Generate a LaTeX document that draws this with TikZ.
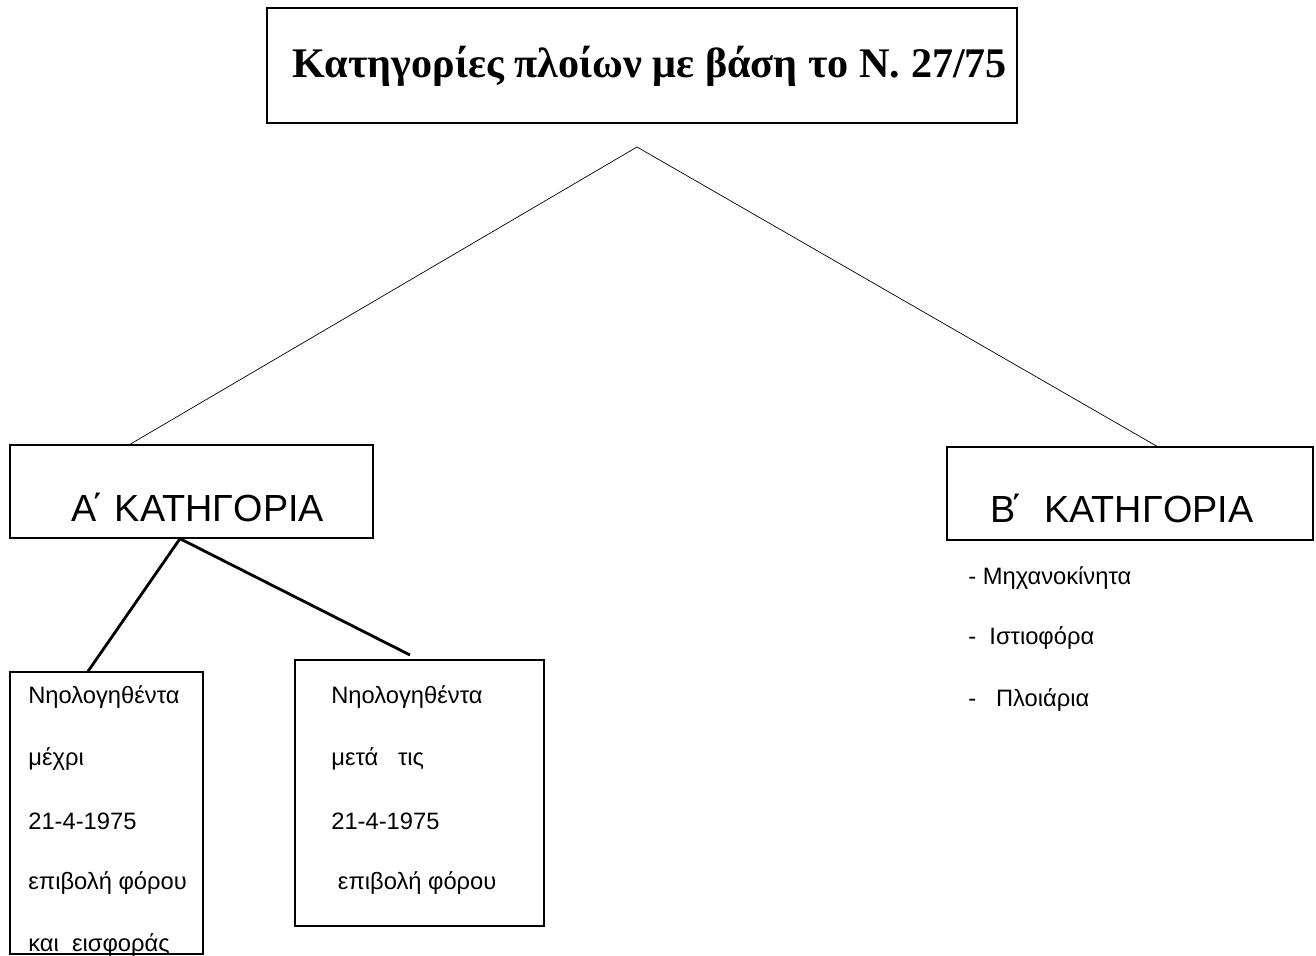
\documentclass[tikz,border=0pt]{standalone}
\usepackage{fontspec}
\setmainfont{Liberation Sans}
\newfontfamily\titlefont{Liberation Serif}

\begin{document}
\begin{tikzpicture}[x=0.02cm,y=-0.02cm,
    box/.style={draw,line width=0.8pt,inner sep=0pt},
    cat/.style={font=\fontsize{21.5}{26}\selectfont,inner sep=0pt},
    txt/.style={font=\fontsize{13.5}{16}\selectfont,anchor=west,inner sep=0pt},
    branch/.style={line width=1.6pt}]
    \useasboundingbox (0,0) rectangle (1316,956);
    % title
    \node[box,line width=1.4pt,minimum width=15cm,minimum height=2.3cm] (title) at (642,65.5) {};
    \node[font=\titlefont\bfseries\fontsize{24}{28}\selectfont,inner sep=0pt] (titletext) at (650,66)
        {Κατηγορίες πλοίων με βάση το Ν. 27/75};
    \coordinate (apex) at (637,147);
    % the two categories
    \node[box,minimum width=7.26cm,minimum height=1.86cm] (boxA) at (191.5,491.5) {};
    \node[cat] (catA) at (198,507) {Α\kern-3pt΄ ΚΑΤΗΓΟΡΙΑ};
    \node[box,minimum width=7.32cm,minimum height=1.86cm] (boxB) at (1130,493.5) {};
    \node[cat] (catB) at (1122,508) {Β\kern-3pt΄\ \ ΚΑΤΗΓΟΡΙΑ};
    \draw[thin] (apex) -- ([xshift=-1.23cm]boxA.north);
    \draw[thin] (apex) -- ([xshift=0.54cm]boxB.north);
    % A: registered before / after
    \node[box,minimum width=3.86cm,minimum height=5.64cm] (before) at (106.5,813) {};
    \node[box,minimum width=4.98cm,minimum height=5.32cm] (after) at (419.5,793) {};
    \coordinate (afterend) at (410,655);
    \draw[branch] ([xshift=-0.23cm]boxA.south) -- ([xshift=-0.37cm]before.north);
    \draw[branch] ([xshift=-0.23cm]boxA.south) -- (afterend);
    \foreach \t [count=\i] in {Νηολογηθέντα,μέχρι,21-4-1975,επιβολή φόρου,και\ \ εισφοράς}
        \node[txt] (before\i) at (28,{697+62*(\i-1)}) {\t};
    \foreach \t [count=\i] in {Νηολογηθέντα,μετά\ \ \ τις,21-4-1975,\ επιβολή φόρου}
        \node[txt] (after\i) at (331,{697+62*(\i-1)}) {\t};
    % B: kinds of vessels
    \node[txt] (kind1) at (968,578) {-\ Μηχανοκίνητα};
    \node[txt] (kind2) at (968,638) {-\ \ Ιστιοφόρα};
    \node[txt] (kind3) at (968,700) {-\ \ \ Πλοιάρια};
\end{tikzpicture}
\end{document}
